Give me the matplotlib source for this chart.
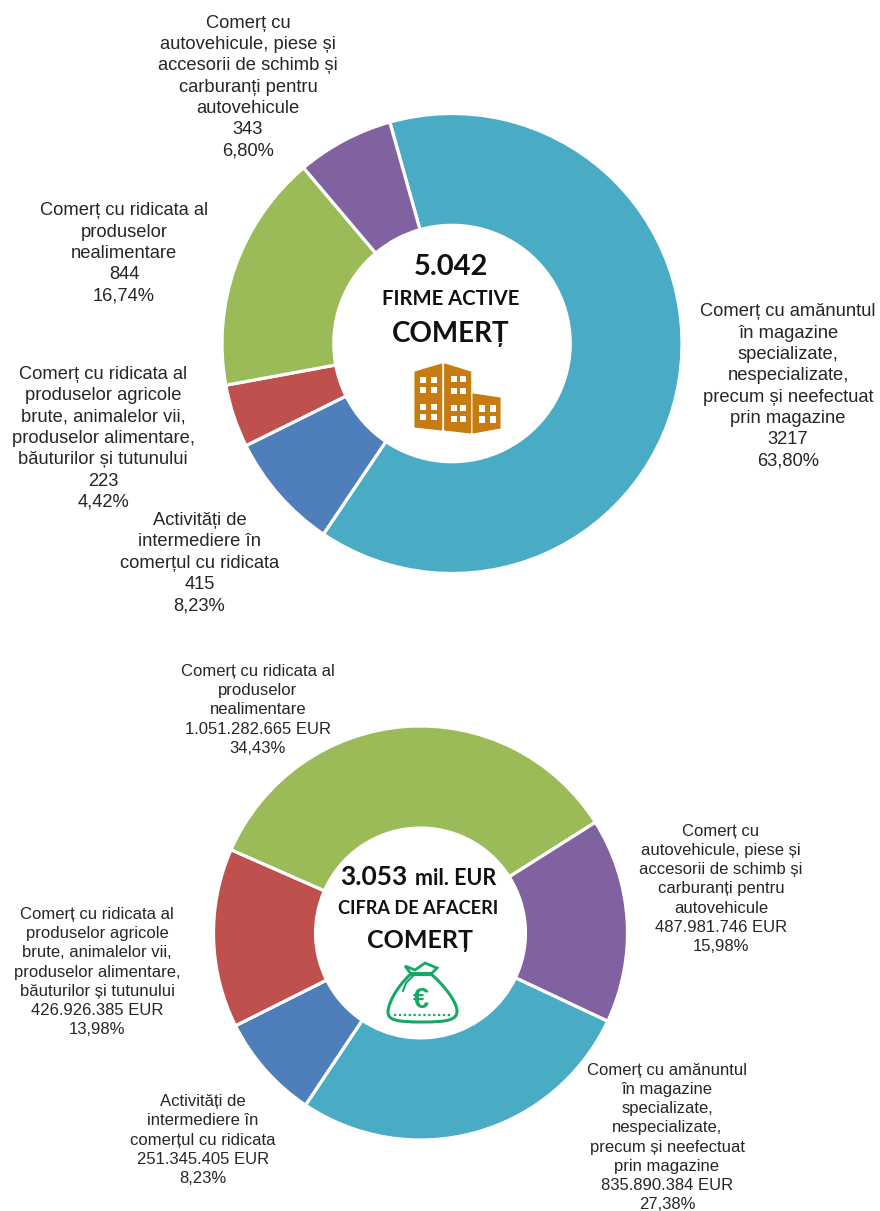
import matplotlib
matplotlib.use('Agg')
import matplotlib.pyplot as plt
from matplotlib.patches import Polygon, Rectangle, PathPatch
from matplotlib.path import Path

categories = [
    'Comerț cu amănuntul\nîn magazine\nspecializate,\nnespecializate,\nprecum și neefectuat\nprin magazine',
    'Activități de\nintermediere în\ncomerțul cu ridicata',
    'Comerț cu ridicata al\nproduselor agricole\nbrute, animalelor vii,\nproduselor alimentare,\nbăuturilor și tutunului',
    'Comerț cu ridicata al\nproduselor\nnealimentare',
    'Comerț cu\nautovehicule, piese și\naccesorii de schimb și\ncarburanți pentru\nautovehicule',
]
firme = [3217, 415, 223, 844, 343]
firme_pct = ['63,80%', '8,23%', '4,42%', '16,74%', '6,80%']
cifra = [835890384, 251345405, 426926385, 1051282665, 487981746]
cifra_txt = ['835.890.384 EUR', '251.345.405 EUR', '426.926.385 EUR', '1.051.282.665 EUR', '487.981.746 EUR']
cifra_pct = ['27,38%', '8,23%', '13,98%', '34,43%', '15,98%']
colors = ['#4AABC5', '#4F7FBB', '#C0504D', '#9BBB59', '#8062A0']

W, H = 880, 1211
fig = plt.figure(figsize=(W / 100, H / 100), dpi=100)
plt.rcParams['font.family'] = ['Liberation Sans', 'DejaVu Sans']


def donut(vals, cx, cy, r, start, hole):
    ax = fig.add_axes([(cx - r) / W, 1 - (cy + r) / H, 2 * r / W, 2 * r / H])
    ax.pie(vals, colors=colors, startangle=start, counterclock=False, radius=1,
           wedgeprops={'width': 1 - hole, 'edgecolor': 'white', 'linewidth': 2.3})
    ax.set_xlim(-1, 1)
    ax.set_ylim(-1, 1)
    ax.axis('off')


donut(firme, 452, 343.5, 230, 105.7, 0.514)
donut(cifra, 420.5, 933, 207, -25.2, 0.507)

ov = fig.add_axes([0, 0, 1, 1])
ov.set_xlim(0, W)
ov.set_ylim(H, 0)
ov.axis('off')
ov.patch.set_alpha(0)

txt_col = '#262626'
# top chart labels
top_pos = [(788, 386.5), (199.5, 563), (103, 438.5), (124, 253.5), (248, 87)]
for i, (x, y) in enumerate(top_pos):
    ov.text(x, y, f'{categories[i]}\n{firme[i]}\n{firme_pct[i]}', ha='center', va='center',
            fontsize=13.2, linespacing=1.33, color=txt_col)
# bottom chart labels
bot_pos = [(667, 1137.5), (203, 1140), (97, 972), (258, 710), (721, 889)]
for i, (x, y) in enumerate(bot_pos):
    ov.text(x, y, f'{categories[i]}\n{cifra_txt[i]}\n{cifra_pct[i]}', ha='center', va='center',
            fontsize=12, linespacing=1.34, color=txt_col)

center_font = ['Lato', 'DejaVu Sans']
ov.text(451, 267, '5.042', ha='center', va='center', fontsize=21, fontweight='bold', family=center_font, color='#111111')
ov.text(451, 299, 'FIRME ACTIVE', ha='center', va='center', fontsize=14.6, fontweight='bold', family=center_font, color='#111111')
ov.text(451, 334, 'COMERȚ', ha='center', va='center', fontsize=20, fontweight='bold', family=center_font, color='#111111')

ov.text(340, 885, '3.053', ha='left', va='baseline', fontsize=19, fontweight='bold', family=center_font, color='#111111')
ov.text(415, 885, 'mil. EUR', ha='left', va='baseline', fontsize=15.5, fontweight='bold', family=center_font, color='#111111')
ov.text(418, 909, 'CIFRA DE AFACERI', ha='center', va='center', fontsize=13.1, fontweight='bold', family=center_font, color='#111111')
ov.text(419.5, 940, 'COMERȚ', ha='center', va='center', fontsize=18, fontweight='bold', family=center_font, color='#111111')

# building icon
orange = '#C77C11'
for pts in ([(415, 372), (441.7, 364), (441.7, 430), (415, 427)],
            [(444.7, 364), (470.7, 372), (470.7, 433), (444.7, 430)],
            [(473, 394), (500, 398), (500, 428), (473, 433)]):
    ov.add_patch(Polygon(pts, closed=True, fc=orange, ec=orange, lw=0.8, joinstyle='round'))
for x in (420, 431):
    for y in (377, 387, 404, 414):
        ov.add_patch(Rectangle((x, y), 6.2, 6.2, fc='white', ec='none'))
for x in (451, 460):
    for y in (376, 388, 405, 416):
        ov.add_patch(Rectangle((x, y), 6, 6.4, fc='white', ec='none'))
for x in (479, 490):
    for y in (405, 416):
        ov.add_patch(Rectangle((x, y), 6.2, 7, fc='white', ec='none'))

# money bag icon
green = '#17A864'
bag = Path([(411, 974), (398, 985), (388, 1003), (388, 1012), (388, 1020), (396, 1022), (422, 1022),
            (448, 1022), (457, 1020), (457, 1011), (457, 1002), (444, 985), (431, 974), (411, 974)],
           [Path.MOVETO, Path.CURVE4, Path.CURVE4, Path.CURVE4, Path.CURVE4, Path.CURVE4, Path.CURVE4,
            Path.CURVE4, Path.CURVE4, Path.CURVE4, Path.CURVE4, Path.CURVE4, Path.CURVE4, Path.CLOSEPOLY])
ov.add_patch(PathPatch(bag, fc='white', ec=green, lw=2.2))
ov.add_patch(Polygon([(405, 966), (415, 970), (425, 963), (437, 968), (431, 974), (411, 974)],
                     closed=True, fc='white', ec=green, lw=2))
ov.plot([411, 431], [974, 974], color=green, lw=3, solid_capstyle='round')
ov.plot([394, 451], [1015, 1015], color=green, lw=1.6, ls=(0, (1, 1.2)))
ov.plot([413, 406, 403], [976, 983, 991], color=green, lw=1.5)
ov.text(420.5, 1000, '€', ha='center', va='center', fontsize=21, fontweight='bold', color=green, family=['Liberation Sans'])

fig.savefig('out.png', dpi=100, facecolor='white')
